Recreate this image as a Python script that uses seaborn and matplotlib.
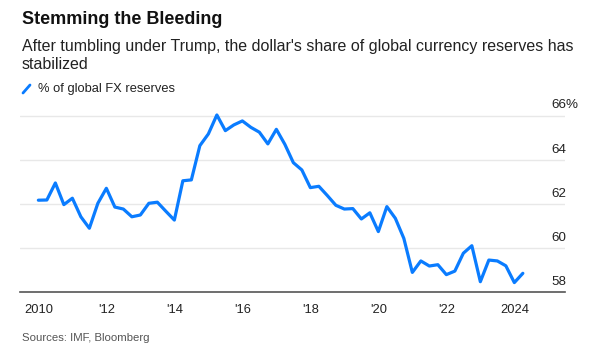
import matplotlib
matplotlib.use("Agg")
import matplotlib.pyplot as plt
import matplotlib.lines as mlines
import seaborn as sns
import pandas as pd
import numpy as np

# ---- data (quarterly, 2010 Q1 .. 2024 Q2) ----
start_year = 2010
share_pct = [
    62.17, 62.18, 62.95, 61.97, 62.26, 61.42, 60.90, 62.03,   # 2010-2011
    62.71, 61.86, 61.77, 61.42, 61.50, 62.03, 62.08, 61.67,   # 2012-2013
    61.27, 63.05, 63.09, 64.64, 65.17, 66.03, 65.32, 65.58,   # 2014-2015
    65.76, 65.47, 65.25, 64.72, 65.38, 64.70, 63.87, 63.54,   # 2016-2017
    62.74, 62.80, 62.38, 61.94, 61.77, 61.79, 61.32, 61.60,   # 2018-2019
    60.75, 61.88, 61.35, 60.44, 58.90, 59.42, 59.19, 59.25,   # 2020-2021
    58.80, 58.96, 59.77, 60.11, 58.48, 59.46, 59.42, 59.20,   # 2022-2023
    58.44, 58.86,                                             # 2024
]
xtick_years = [2010, 2012, 2014, 2016, 2018, 2020, 2022, 2024]
xtick_labels = ["2010", "'12", "'14", "'16", "'18", "'20", "'22", "2024"]
ytick_values = [58, 60, 62, 64, 66]
ytick_labels = ["58", "60", "62", "64", "66%"]

title = "Stemming the Bleeding"
subtitle = ("After tumbling under Trump, the dollar's share of global currency reserves has\n"
            "stabilized")
legend_label = "% of global FX reserves"
source = "Sources: IMF, Bloomberg"

df = pd.DataFrame({
    "t": [start_year + i / 4 for i in range(len(share_pct))],
    "share": share_pct,
})

# ---- figure ----
sns.set_theme(style="white")
plt.rcParams["font.family"] = ["Liberation Sans", "DejaVu Sans"]

W, H = 601, 351
fig = plt.figure(figsize=(W / 100, H / 100), dpi=100)
fig.patch.set_facecolor("white")

ax_left, ax_right = 20, 565
ax_bottom, ax_top = 292.3, 109.0
ax = fig.add_axes([ax_left / W, 1 - ax_bottom / H,
                   (ax_right - ax_left) / W, (ax_bottom - ax_top) / H])
ax.set_facecolor("white")

blue = "#0a7cff"
sns.lineplot(data=df, x="t", y="share", ax=ax, color=blue, linewidth=2.3,
             legend=False, zorder=3)

ax.set_xlim(2009.46, 2025.49)
ax.set_ylim(58, 66.3)

# gridlines
for v in ytick_values[1:]:
    ax.axhline(v, color="#e8e8e8", linewidth=1.0, zorder=1)

for s in ["top", "right", "left"]:
    ax.spines[s].set_visible(False)
ax.spines["bottom"].set_color("#555555")
ax.spines["bottom"].set_linewidth(1.2)

ax.set_xticks(xtick_years)
ax.set_xticklabels(xtick_labels, fontsize=9.3, color="#222222")
ax.tick_params(axis="x", direction="out", length=4.5, width=1.0, color="#555555", pad=4)
ax.set_yticks([])
ax.set_xlabel("")
ax.set_ylabel("")

# y labels on the right, sitting above their gridlines
for v, lab in zip(ytick_values, ytick_labels):
    ax.annotate(lab, xy=(551, v), xycoords=("figure pixels", "data"),
                xytext=(0, 3), textcoords="offset points",
                ha="left", va="bottom", fontsize=9.6, color="#222222",
                annotation_clip=False)

# titles
fig.text(22 / W, 1 - 20 / H, title, fontsize=13, fontweight="bold",
         color="#111111", ha="left", va="center")
fig.text(22 / W, 1 - 38.5 / H, subtitle, fontsize=11.5, color="#222222",
         ha="left", va="top", linespacing=1.32)

# legend
fig.add_artist(mlines.Line2D([23 / W, 30 / W], [1 - 93 / H, 1 - 85 / H],
                             color=blue, linewidth=2.0))
fig.text(38 / W, 1 - 89 / H, legend_label, fontsize=9.3, color="#222222",
         ha="left", va="center")

fig.text(22 / W, 1 - 338 / H, source, fontsize=8.2, color="#555555",
         ha="left", va="center")

fig.savefig("out.png", dpi=100, facecolor="white")
